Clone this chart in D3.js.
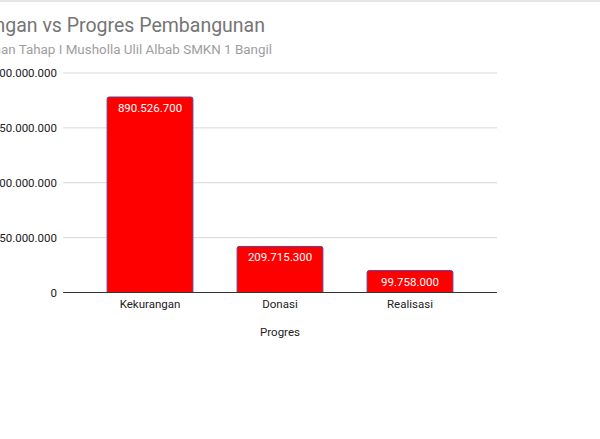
<!DOCTYPE html>
<html>
<head>
<meta charset="utf-8">
<script src="https://cdn.jsdelivr.net/npm/d3@7"></script>
<style>
  body { margin: 0; background: #fff; }
  text { font-family: Roboto, "Noto Sans", sans-serif; }
</style>
</head>
<body>
<div id="container"></div>
<script>
// <--------- data --------->
let categories = ["Kekurangan", "Donasi", "Realisasi"];
let values = [890526700, 209715300, 99758000];
let yTicks = [0, 250000000, 500000000, 750000000, 1000000000];

let titleText = "Kekurangan vs Progres Pembangunan";
let subtitleText = "Pembangunan Tahap I Musholla Ulil Albab SMKN 1 Bangil";
let xTitle = "Progres";

// <--------- canvas --------->
let W = 600, H = 439;
let viz = d3.select("#container")
  .append("svg")
    .attr("width", W)
    .attr("height", H)
    .style("background-color", "#ffffff");

// thin border at the very top of the screenshot
viz.append("rect")
  .attr("x", 0).attr("y", 0)
  .attr("width", W).attr("height", 2)
  .attr("fill", "#e6e6e6");

let plotLeft = 63, plotRight = 497;

let fmt = d3.format(",.0f");
function dots(v){
  return fmt(v).replace(/,/g, ".");
}

let y = d3.scaleLinear()
  .domain([0, 1000000000])
  .range([292.5, 73]);

let x = d3.scaleBand()
  .domain(categories)
  .range([85, 475])
  .paddingInner(0.34)
  .paddingOuter(0.17);

// gridlines
viz.selectAll(".grid").data(yTicks.slice(1)).enter()
  .append("line")
    .attr("class", "grid")
    .attr("x1", plotLeft)
    .attr("x2", plotRight)
    .attr("y1", d => y(d))
    .attr("y2", d => y(d))
    .attr("stroke", "#d9d9d9")
    .attr("stroke-width", 1);

// y tick labels (left side cut off, as in the screenshot)
viz.selectAll(".ylab").data(yTicks).enter()
  .append("text")
    .attr("class", "ylab")
    .attr("x", 57)
    .attr("y", d => y(d) + 4)
    .attr("text-anchor", "end")
    .style("font-size", "11.5px")
    .style("fill", "#222")
    .text(d => dots(d));

// bars
let bars = viz.selectAll(".bar").data(values).enter()
  .append("g")
    .attr("class", "bar");

bars.append("path")
  .attr("d", (d, i) => {
    let x0 = x(categories[i]), w = x.bandwidth();
    let top = y(d), bot = y(0), r = 2;
    return "M" + x0 + "," + bot +
      "V" + (top + r) +
      "Q" + x0 + "," + top + " " + (x0 + r) + "," + top +
      "H" + (x0 + w - r) +
      "Q" + (x0 + w) + "," + top + " " + (x0 + w) + "," + (top + r) +
      "V" + bot + "Z";
  })
  .attr("fill", "#ff0000")
  .attr("stroke", "#6a3a8a")
  .attr("stroke-width", 1);

bars.append("text")
  .attr("x", (d, i) => x(categories[i]) + x.bandwidth() / 2)
  .attr("y", d => y(d) + 15)
  .attr("text-anchor", "middle")
  .style("font-size", "11.5px")
  .style("fill", "#ffffff")
  .text(d => dots(d));

// baseline
viz.append("line")
  .attr("x1", plotLeft)
  .attr("x2", plotRight)
  .attr("y1", y(0))
  .attr("y2", y(0))
  .attr("stroke", "#333")
  .attr("stroke-width", 1);

// x labels
viz.selectAll(".xlab").data(categories).enter()
  .append("text")
    .attr("class", "xlab")
    .attr("x", d => x(d) + x.bandwidth() / 2)
    .attr("y", 308)
    .attr("text-anchor", "middle")
    .style("font-size", "11.5px")
    .style("fill", "#222")
    .text(d => d);

viz.append("text")
  .attr("x", (plotLeft + plotRight) / 2)
  .attr("y", 336)
  .attr("text-anchor", "middle")
  .style("font-size", "11.5px")
  .style("fill", "#222")
  .text(xTitle);

// titles (left part is cut off in the reference)
viz.append("text")
  .attr("x", 265)
  .attr("y", 32)
  .attr("text-anchor", "end")
  .style("font-size", "19.5px")
  .style("fill", "#757575")
  .text(titleText);

viz.append("text")
  .attr("x", 272)
  .attr("y", 54)
  .attr("text-anchor", "end")
  .style("font-size", "13.4px")
  .style("fill", "#9e9e9e")
  .text(subtitleText);
</script>
</body>
</html>
